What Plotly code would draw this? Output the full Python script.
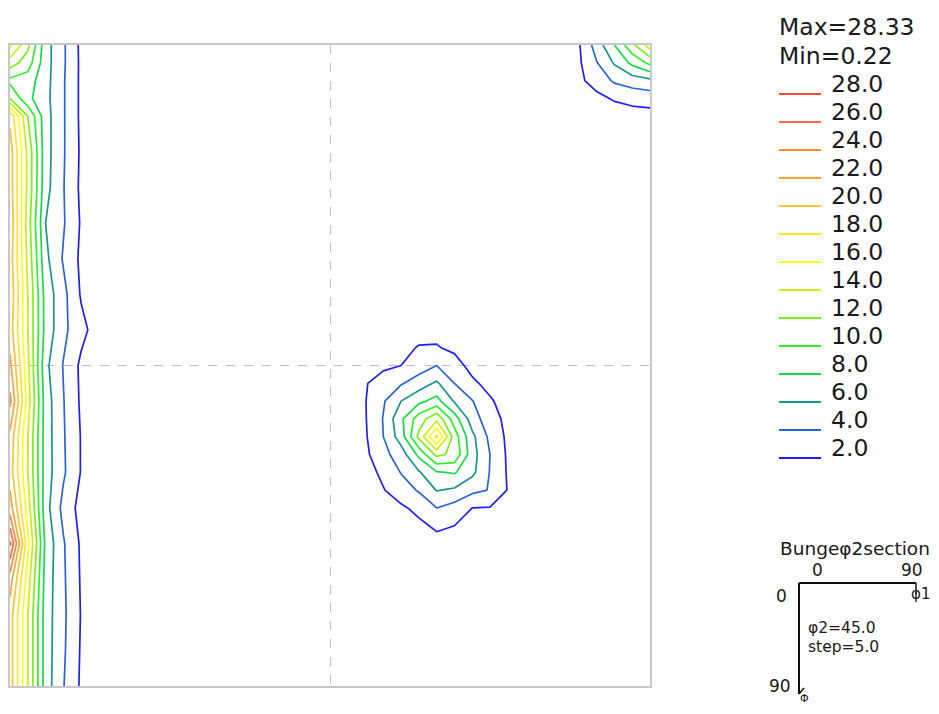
import plotly.graph_objects as go

# ---------------- data (ODF section values, phi2 = 45) ----------------
levels = [28.0, 26.0, 24.0, 22.0, 20.0, 18.0, 16.0, 14.0, 12.0, 10.0, 8.0, 6.0, 4.0, 2.0]
level_colors = ["#ff4a3a", "#ff6a3a", "#ff8a3a", "#ffa436", "#ffc232", "#ffe22e", "#ffff1e",
                "#c8f00a", "#7cf014", "#2cf02c", "#14da4a", "#18968a", "#2864d2", "#1e1ef5"]
max_val = 28.33
min_val = 0.22

# strip along phi1 = 0
phi1_left = [0, 2.5, 5, 7.5, 10, 12.5, 15]
Phi_left = [0, 2.5, 5, 7.5, 10, 15, 20, 25, 30, 35, 40, 45, 50, 55, 60, 65, 70, 75, 80, 85, 90]
f_left = [
    [16.5, 12.5, 6.8, 4.3, 1.55, 0.8, 0.5],
    [13.0, 11.0, 6.8, 4.3, 1.6, 0.8, 0.5],
    [9.5, 9.0, 6.7, 4.2, 1.6, 0.8, 0.5],
    [12.0, 8.5, 6.6, 4.2, 1.6, 0.8, 0.5],
    [19.5, 12.0, 6.8, 4.2, 1.6, 0.8, 0.5],
    [21.0, 13.5, 6.8, 4.2, 1.7, 0.8, 0.5],
    [21.0, 13.5, 6.7, 4.1, 1.6, 0.8, 0.5],
    [21.5, 13.0, 6.0, 4.2, 1.8, 0.8, 0.5],
    [21.0, 13.5, 6.5, 3.8, 1.6, 0.8, 0.5],
    [21.5, 14.0, 7.2, 4.6, 1.8, 0.9, 0.5],
    [21.0, 14.0, 7.3, 4.5, 2.6, 1.0, 0.5],
    [22.5, 14.5, 6.5, 3.9, 1.6, 0.8, 0.5],
    [24.5, 15.0, 7.0, 4.1, 1.7, 0.8, 0.5],
    [21.5, 14.0, 7.0, 4.2, 1.9, 0.8, 0.5],
    [21.0, 14.0, 7.0, 4.3, 1.9, 0.8, 0.5],
    [23.0, 15.0, 6.8, 3.4, 1.3, 0.7, 0.5],
    [28.33, 16.5, 7.5, 4.2, 1.7, 0.8, 0.5],
    [23.0, 15.0, 7.2, 4.3, 1.8, 0.8, 0.5],
    [21.0, 14.0, 7.0, 4.4, 1.9, 0.8, 0.5],
    [21.0, 14.0, 7.0, 4.3, 1.8, 0.8, 0.5],
    [21.0, 14.0, 7.0, 4.1, 1.7, 0.8, 0.5],
]

# central peak
phi1_peak = [47.5, 50, 52.5, 55, 57.5, 60, 62.5, 65, 67.5, 70, 72.5]
Phi_peak = [37.5, 40, 42.5, 45, 47.5, 50, 52.5, 55, 57.5, 60, 62.5, 65, 67.5, 70, 72.5]
f_peak = [
    [0.3, 0.4, 0.5, 0.6, 0.8, 0.9, 0.8, 0.6, 0.5, 0.4, 0.3],
    [0.4, 0.6, 0.8, 1.0, 1.4, 1.6, 1.4, 1.0, 0.7, 0.5, 0.4],
    [0.5, 0.8, 1.1, 1.6, 2.1, 2.1, 1.7, 1.2, 0.8, 0.6, 0.4],
    [0.6, 1.3, 1.7, 2.0, 3.0, 4.0, 2.6, 1.5, 1.0, 0.7, 0.5],
    [0.9, 1.9, 2.7, 3.8, 5.0, 6.3, 4.0, 2.3, 1.5, 0.9, 0.6],
    [1.0, 1.95, 3.8, 6.0, 7.5, 8.7, 5.8, 4.1, 2.2, 1.3, 0.8],
    [0.9, 1.9, 4.1, 7.6, 11.0, 13.5, 9.0, 5.0, 2.8, 1.5, 0.8],
    [0.8, 1.8, 4.0, 7.0, 12.5, 18.5, 11.0, 6.5, 3.5, 1.6, 0.8],
    [0.7, 1.6, 3.4, 5.0, 8.5, 12.5, 11.5, 6.8, 4.0, 1.7, 0.8],
    [0.6, 1.3, 2.4, 4.1, 5.8, 7.8, 8.2, 6.5, 3.9, 1.8, 0.8],
    [0.5, 1.0, 1.9, 3.0, 4.2, 6.1, 5.7, 4.5, 3.9, 1.9, 0.8],
    [0.4, 0.8, 1.3, 1.7, 2.5, 4.0, 3.2, 2.0, 1.9, 1.2, 0.6],
    [0.3, 0.5, 0.8, 1.1, 1.6, 2.3, 2.0, 1.3, 1.0, 0.7, 0.5],
    [0.3, 0.4, 0.6, 0.8, 1.1, 1.4, 1.3, 0.9, 0.7, 0.5, 0.4],
    [0.3, 0.3, 0.4, 0.5, 0.7, 0.8, 0.8, 0.6, 0.5, 0.4, 0.3],
]

# corner at phi1 = 90, Phi = 0
phi1_corner = [75, 77.5, 80, 82.5, 85, 87.5, 90]
Phi_corner = [0, 2.5, 5, 7.5, 10, 12.5]
f_corner = [
    [0.5, 0.9, 1.8, 4.9, 8.0, 11.5, 15.0],
    [0.5, 0.85, 1.7, 3.9, 6.2, 8.5, 10.5],
    [0.5, 0.8, 1.6, 2.8, 4.3, 5.0, 5.5],
    [0.4, 0.6, 1.1, 1.5, 2.2, 2.6, 2.8],
    [0.4, 0.5, 0.6, 0.8, 1.0, 1.2, 1.3],
    [0.3, 0.4, 0.4, 0.5, 0.6, 0.6, 0.7],
]

# ---------------- figure ----------------
OFF = 8                      # page body margin of the html
W, H = 939 - OFF, 714 - 2 * OFF
# plot box in page pixels
PL, PR, PT, PB = 10, 650, 45, 686
FONT = "DejaVu Sans"

lo, hi = min(levels), max(levels)
step = levels[0] - levels[1]
cscale = sorted([[(lv - lo) / (hi - lo), c] for lv, c in zip(levels, level_colors)])

fig = go.Figure()
for xs, ys, zs in [(phi1_left, Phi_left, f_left),
                   (phi1_peak, Phi_peak, f_peak),
                   (phi1_corner, Phi_corner, f_corner)]:
    fig.add_trace(go.Contour(
        x=xs, y=ys, z=zs,
        autocontour=False,
        contours=dict(start=lo, end=hi, size=step, coloring="lines", showlabels=False),
        colorscale=cscale, showscale=False,
        line=dict(width=1.7, smoothing=0),
        hoverinfo="skip",
    ))

axis_common = dict(showgrid=True, griddash="dash", gridcolor="#bdbdbd", gridwidth=1,
                   tick0=0, dtick=45, zeroline=False, showticklabels=False, ticks="",
                   showline=True, mirror=True, linecolor="#c8c8c8", linewidth=2)
fig.update_xaxes(range=[0, 90], **axis_common)
fig.update_yaxes(range=[90, 0], **axis_common)

def px(x):
    return (x - PL) / (PR - PL)

def py(y):
    return (PB - y) / (PB - PT)

shapes = []
ann = []

def text(x, y, s, size, xanchor="left", family=FONT):
    ann.append(dict(x=px(x), y=py(y), xref="paper", yref="paper", text=s, showarrow=False,
                    xanchor=xanchor, yanchor="middle",
                    font=dict(family=family, size=size, color="#1a1a1a")))

def line(x0, y0, x1, y1, color, width):
    shapes.append(dict(type="line", xref="paper", yref="paper",
                       x0=px(x0), y0=py(y0), x1=px(x1), y1=py(y1),
                       line=dict(color=color, width=width)))

# colour legend
text(777, 27, f"Max={max_val:.2f}", 23.5)
text(777, 56, f"Min={min_val:.2f}", 23.5)
for i, (lv, c) in enumerate(zip(levels, level_colors)):
    line(779, 94 + 28 * i, 821, 94 + 28 * i, c, 2)
    text(829, 84 + 28 * i, f"{lv:.1f}", 23.5)

# section key
text(855, 548, "Bungeφ2section", 18.5, xanchor="center")
text(817, 570, "0", 17, xanchor="center")
text(912, 570, "90", 17, xanchor="center")
line(799, 583, 916, 583, "#111111", 2)
line(916, 583, 916, 594, "#111111", 1.5)
text(920, 594, "φ1", 15, xanchor="center")
text(781, 596, "0", 17, xanchor="center")
line(799, 583, 799, 694, "#111111", 2)
line(799, 694, 804, 688, "#111111", 1.5)
text(806, 628, "φ2=45.0", 15.5)
text(806, 647, "step=5.0", 15.5)
text(780, 686, "90", 17, xanchor="center")
text(804, 698, "Φ", 11, xanchor="center")

fig.update_layout(
    width=W, height=H,
    margin=dict(l=PL - OFF, r=939 - PR, t=PT - OFF, b=(714 - OFF) - PB),
    plot_bgcolor="white", paper_bgcolor="white",
    showlegend=False,
    shapes=shapes, annotations=ann,
)

fig.write_html("out.html")
